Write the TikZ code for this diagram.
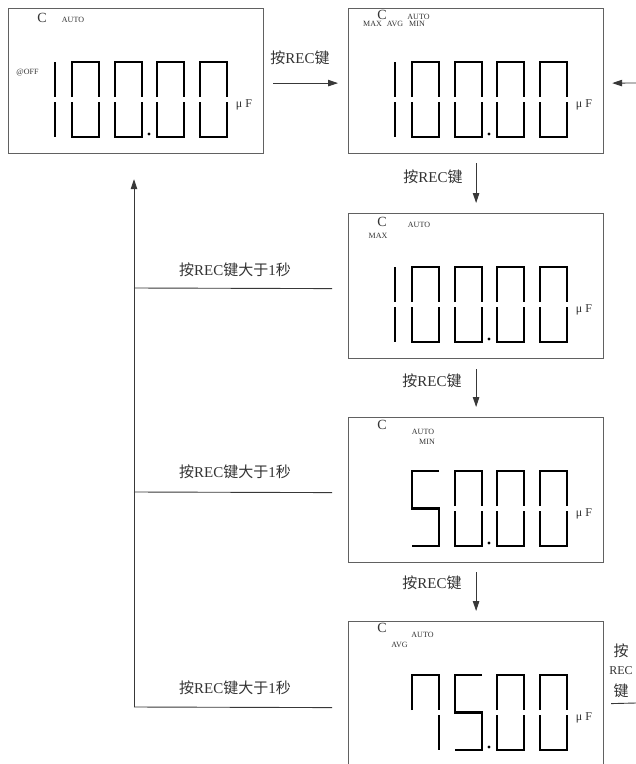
\documentclass[tikz,border=0pt]{standalone}
\usepackage{fontspec}
\setmainfont{Liberation Serif}
\newfontfamily\cjk{Noto Sans CJK SC}
\usetikzlibrary{arrows.meta}
\newcommand\an{{\cjk 按}}
\newcommand\jian{{\cjk 键}}
\newcommand\segzero[1]{%
  \draw[seg] (#1,89) |- (#1+27,54) -- (#1+27,89);
  \draw[seg] (#1,94) |- (#1+27,129) -- (#1+27,94);}
\newcommand\segone[1]{%
  \draw[seg] (#1+27,54) -- (#1+27,89);
  \draw[seg] (#1+27,94) -- (#1+27,129);}
\newcommand\segfive[1]{%
  \draw[seg] (#1+27,54) -| (#1,91.5) -- (#1+27,91.5) |- (#1,129);}
\newcommand\segseven[1]{%
  \draw[seg] (#1,89) |- (#1+27,54) -- (#1+27,89);
  \draw[seg] (#1+27,94) -- (#1+27,129);}
\begin{document}
\begin{tikzpicture}[x=1pt,y=-1pt,
  disp/.style={draw=black!62,line width=1.2pt,minimum width=255pt,minimum height=145pt,anchor=north west,inner sep=0pt},
  seg/.style={line width=2.7pt,black,line join=miter},
  conn/.style={draw=black!78,line width=0.9pt},
  arr/.style={conn,-{Triangle[length=10pt,width=6.5pt]}},
  lab/.style={font=\fontsize{15}{15}\selectfont,text=black!80,inner sep=0pt},
  small/.style={font=\fontsize{8}{8}\selectfont,text=black!80,inner sep=0pt},
  bigc/.style={font=\fontsize{14}{14}\selectfont,text=black!80,inner sep=0pt},
  unit/.style={font=\fontsize{12}{12}\selectfont,text=black!80,inner sep=0pt}]
\useasboundingbox (0,0) rectangle (636,764);
\clip (0,0) rectangle (636,764);
\fill[white] (0,0) rectangle (636,764);

% display boxes
\node[disp] (A) at (8,8) {};
\node[disp] (B) at (348,8) {};
\node[disp] (C) at (348,213) {};
\node[disp] (D) at (348,417) {};
\node[disp] (E) at (348,621) {};

% box A contents
\begin{scope}[shift={(8,8)}]
  \node[bigc] (aC) at (34,10) {C};
  \node[small] (aAuto) at (65,12) {AUTO};
  \node[small] (aOff) at (19.5,65) {@OFF};
  \segone{20} \segzero{64} \segzero{107} \segzero{149} \segzero{192}
  \fill (141,126) circle (1.6pt);
  \node[unit] (aUnit) at (236,97) {μ F};
\end{scope}

% box B contents
\begin{scope}[shift={(348,8)}]
  \node[bigc] (bC) at (34,7) {C};
  \node[small] (bMax) at (24.5,16) {MAX};
  \node[small] (bAvg) at (47,16) {AVG};
  \node[small] (bAuto) at (70.5,9) {AUTO};
  \node[small] (bMin) at (69,16) {MIN};
  \segone{20} \segzero{64} \segzero{107} \segzero{149} \segzero{192}
  \fill (141,126) circle (1.6pt);
  \node[unit] (bUnit) at (236,97) {μ F};
\end{scope}

% box C contents
\begin{scope}[shift={(348,213)}]
  \node[bigc] (cC) at (34,9) {C};
  \node[small] (cMax) at (30,23) {MAX};
  \node[small] (cAuto) at (71,12) {AUTO};
  \segone{20} \segzero{64} \segzero{107} \segzero{149} \segzero{192}
  \fill (141,126) circle (1.6pt);
  \node[unit] (cUnit) at (236,97) {μ F};
\end{scope}

% box D contents
\begin{scope}[shift={(348,417)}]
  \node[bigc] (dC) at (34,8) {C};
  \node[small] (dAuto) at (75,15) {AUTO};
  \node[small] (dMin) at (79,25) {MIN};
  \segfive{64} \segzero{107} \segzero{149} \segzero{192}
  \fill (141,126) circle (1.6pt);
  \node[unit] (dUnit) at (236,97) {μ F};
\end{scope}

% box E contents
\begin{scope}[shift={(348,621)}]
  \node[bigc] (eC) at (34,7) {C};
  \node[small] (eAvg) at (51.5,24) {AVG};
  \node[small] (eAuto) at (74.5,14) {AUTO};
  \segseven{64} \segfive{107} \segzero{149} \segzero{192}
  \fill (141,126) circle (1.6pt);
  \node[unit] (eUnit) at (236,97) {μ F};
\end{scope}

% forward connectors
\draw[arr] ([xshift=9pt,yshift=-2pt]A.east) -- ([xshift=-10pt,yshift=-2pt]B.west);
\coordinate (inB) at (636,83);
\draw[arr] (inB) -- ([xshift=8pt,yshift=-2pt]B.east);
\draw[arr] ([yshift=-9pt]B.south) -- ([yshift=10pt]C.north);
\draw[arr] ([yshift=-10pt]C.south) -- ([yshift=10pt]D.north);
\draw[arr] ([yshift=-9pt]D.south) -- ([yshift=10pt]E.north);

\node[lab] (l1) at (300,58) {\an REC\jian};
\node[lab] (l2) at (433,177) {\an REC\jian};
\node[lab] (l3) at (432,381) {\an REC\jian};
\node[lab] (l4) at (432,583) {\an REC\jian};

% return path
\coordinate (jC) at (134,288);
\coordinate (jD) at (134,492);
\coordinate (jE) at (134,707);
\draw[conn] ([xshift=-16pt,yshift=-2.5pt]C.west) -- (jC);
\draw[conn] ([xshift=-16pt,yshift=-2.5pt]D.west) -- (jD);
\draw[conn] ([xshift=-16pt,yshift=-13.5pt]E.west) -- (jE);
\draw[arr] (jE) -- ([yshift=-25pt]A.south -| jE);

\node[lab] (m1) at (235,270) {\an REC\jian{\cjk 大于}1{\cjk 秒}};
\node[lab] (m2) at (235,472) {\an REC\jian{\cjk 大于}1{\cjk 秒}};
\node[lab] (m3) at (235,688) {\an REC\jian{\cjk 大于}1{\cjk 秒}};

% right side of E
\coordinate (outE) at (636,703);
\draw[conn] ([xshift=7pt,yshift=-9.5pt]E.east) -- (outE);
\node[lab] (r1) at (621,651) {\an};
\node[lab,font=\fontsize{12}{12}\selectfont] (r2) at (621,671) {REC};
\node[lab] (r3) at (621,691) {\jian};
\end{tikzpicture}
\end{document}
